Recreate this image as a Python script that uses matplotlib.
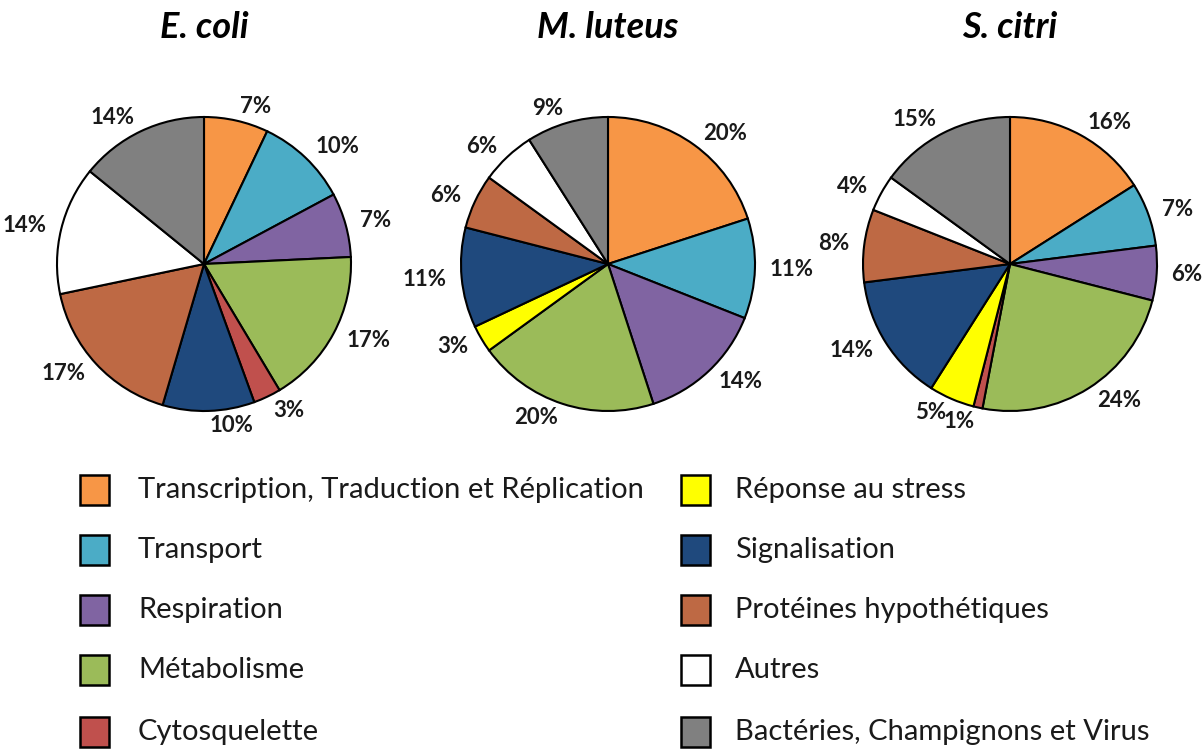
import matplotlib
matplotlib.use("Agg")
import matplotlib.pyplot as plt
from matplotlib.patches import Rectangle

plt.rcParams['font.family'] = ['Lato', 'DejaVu Sans']

# categories in pie order (clockwise from 12 o'clock)
categories = ["Transcription, Traduction et Réplication", "Transport", "Respiration",
              "Métabolisme", "Cytosquelette", "Réponse au stress", "Signalisation",
              "Protéines hypothétiques", "Autres", "Bactéries, Champignons et Virus"]
colors = ["#F79646", "#4BACC6", "#8064A2", "#9BBB59", "#C0504D",
          "#FFFF00", "#1F497D", "#BE6944", "#FFFFFF", "#808080"]

titles = ["E. coli", "M. luteus", "S. citri"]
ecoli = [7, 10, 7, 17, 3, 0, 10, 17, 14, 14]
mluteus = [20, 11, 14, 20, 0, 3, 11, 6, 6, 9]
scitri = [16, 7, 6, 24, 1, 5, 14, 8, 4, 15]
all_values = [ecoli, mluteus, scitri]

W, H = 1204, 751
fig = plt.figure(figsize=(W / 100, H / 100), dpi=100)

centers_x = [204, 608, 1010]
cy = 264
r = 147

for cx, title, vals in zip(centers_x, titles, all_values):
    # drop the empty categories so no zero-width wedge is drawn
    v = [x for x in vals if x > 0]
    c = [col for x, col in zip(vals, colors) if x > 0]
    ax = fig.add_axes([(cx - r) / W, (H - cy - r) / H, 2 * r / W, 2 * r / H])
    wedges, texts = ax.pie(v, colors=c, startangle=90, counterclock=False,
                           labels=[f"{x}%" for x in v], labeldistance=1.1,
                           wedgeprops=dict(edgecolor="black", linewidth=1.5),
                           textprops=dict(fontsize=16, fontweight="bold", color="#1a1a1a"))
    ax.set_xlim(-1, 1)
    ax.set_ylim(-1, 1)
    fig.text(cx / W, 1 - 28 / H, title, ha="center", va="center",
             fontsize=26, fontweight="bold", fontstyle="italic")

# legend, two columns
rows_y = [490, 550, 610, 670, 732]
for i, (cat, col) in enumerate(zip(categories, colors)):
    col_idx = i // 5
    y = rows_y[i % 5]
    bx = 80 if col_idx == 0 else 681
    tx = 138 if col_idx == 0 else 735
    fig.patches.append(Rectangle((bx / W, (H - y - 15) / H), 29 / W, 30 / H,
                                 transform=fig.transFigure, facecolor=col,
                                 edgecolor="black", linewidth=1.8))
    fig.text(tx / W, 1 - y / H, cat, ha="left", va="center", fontsize=21, color="#1a1a1a")

fig.savefig("out.png", dpi=100)
